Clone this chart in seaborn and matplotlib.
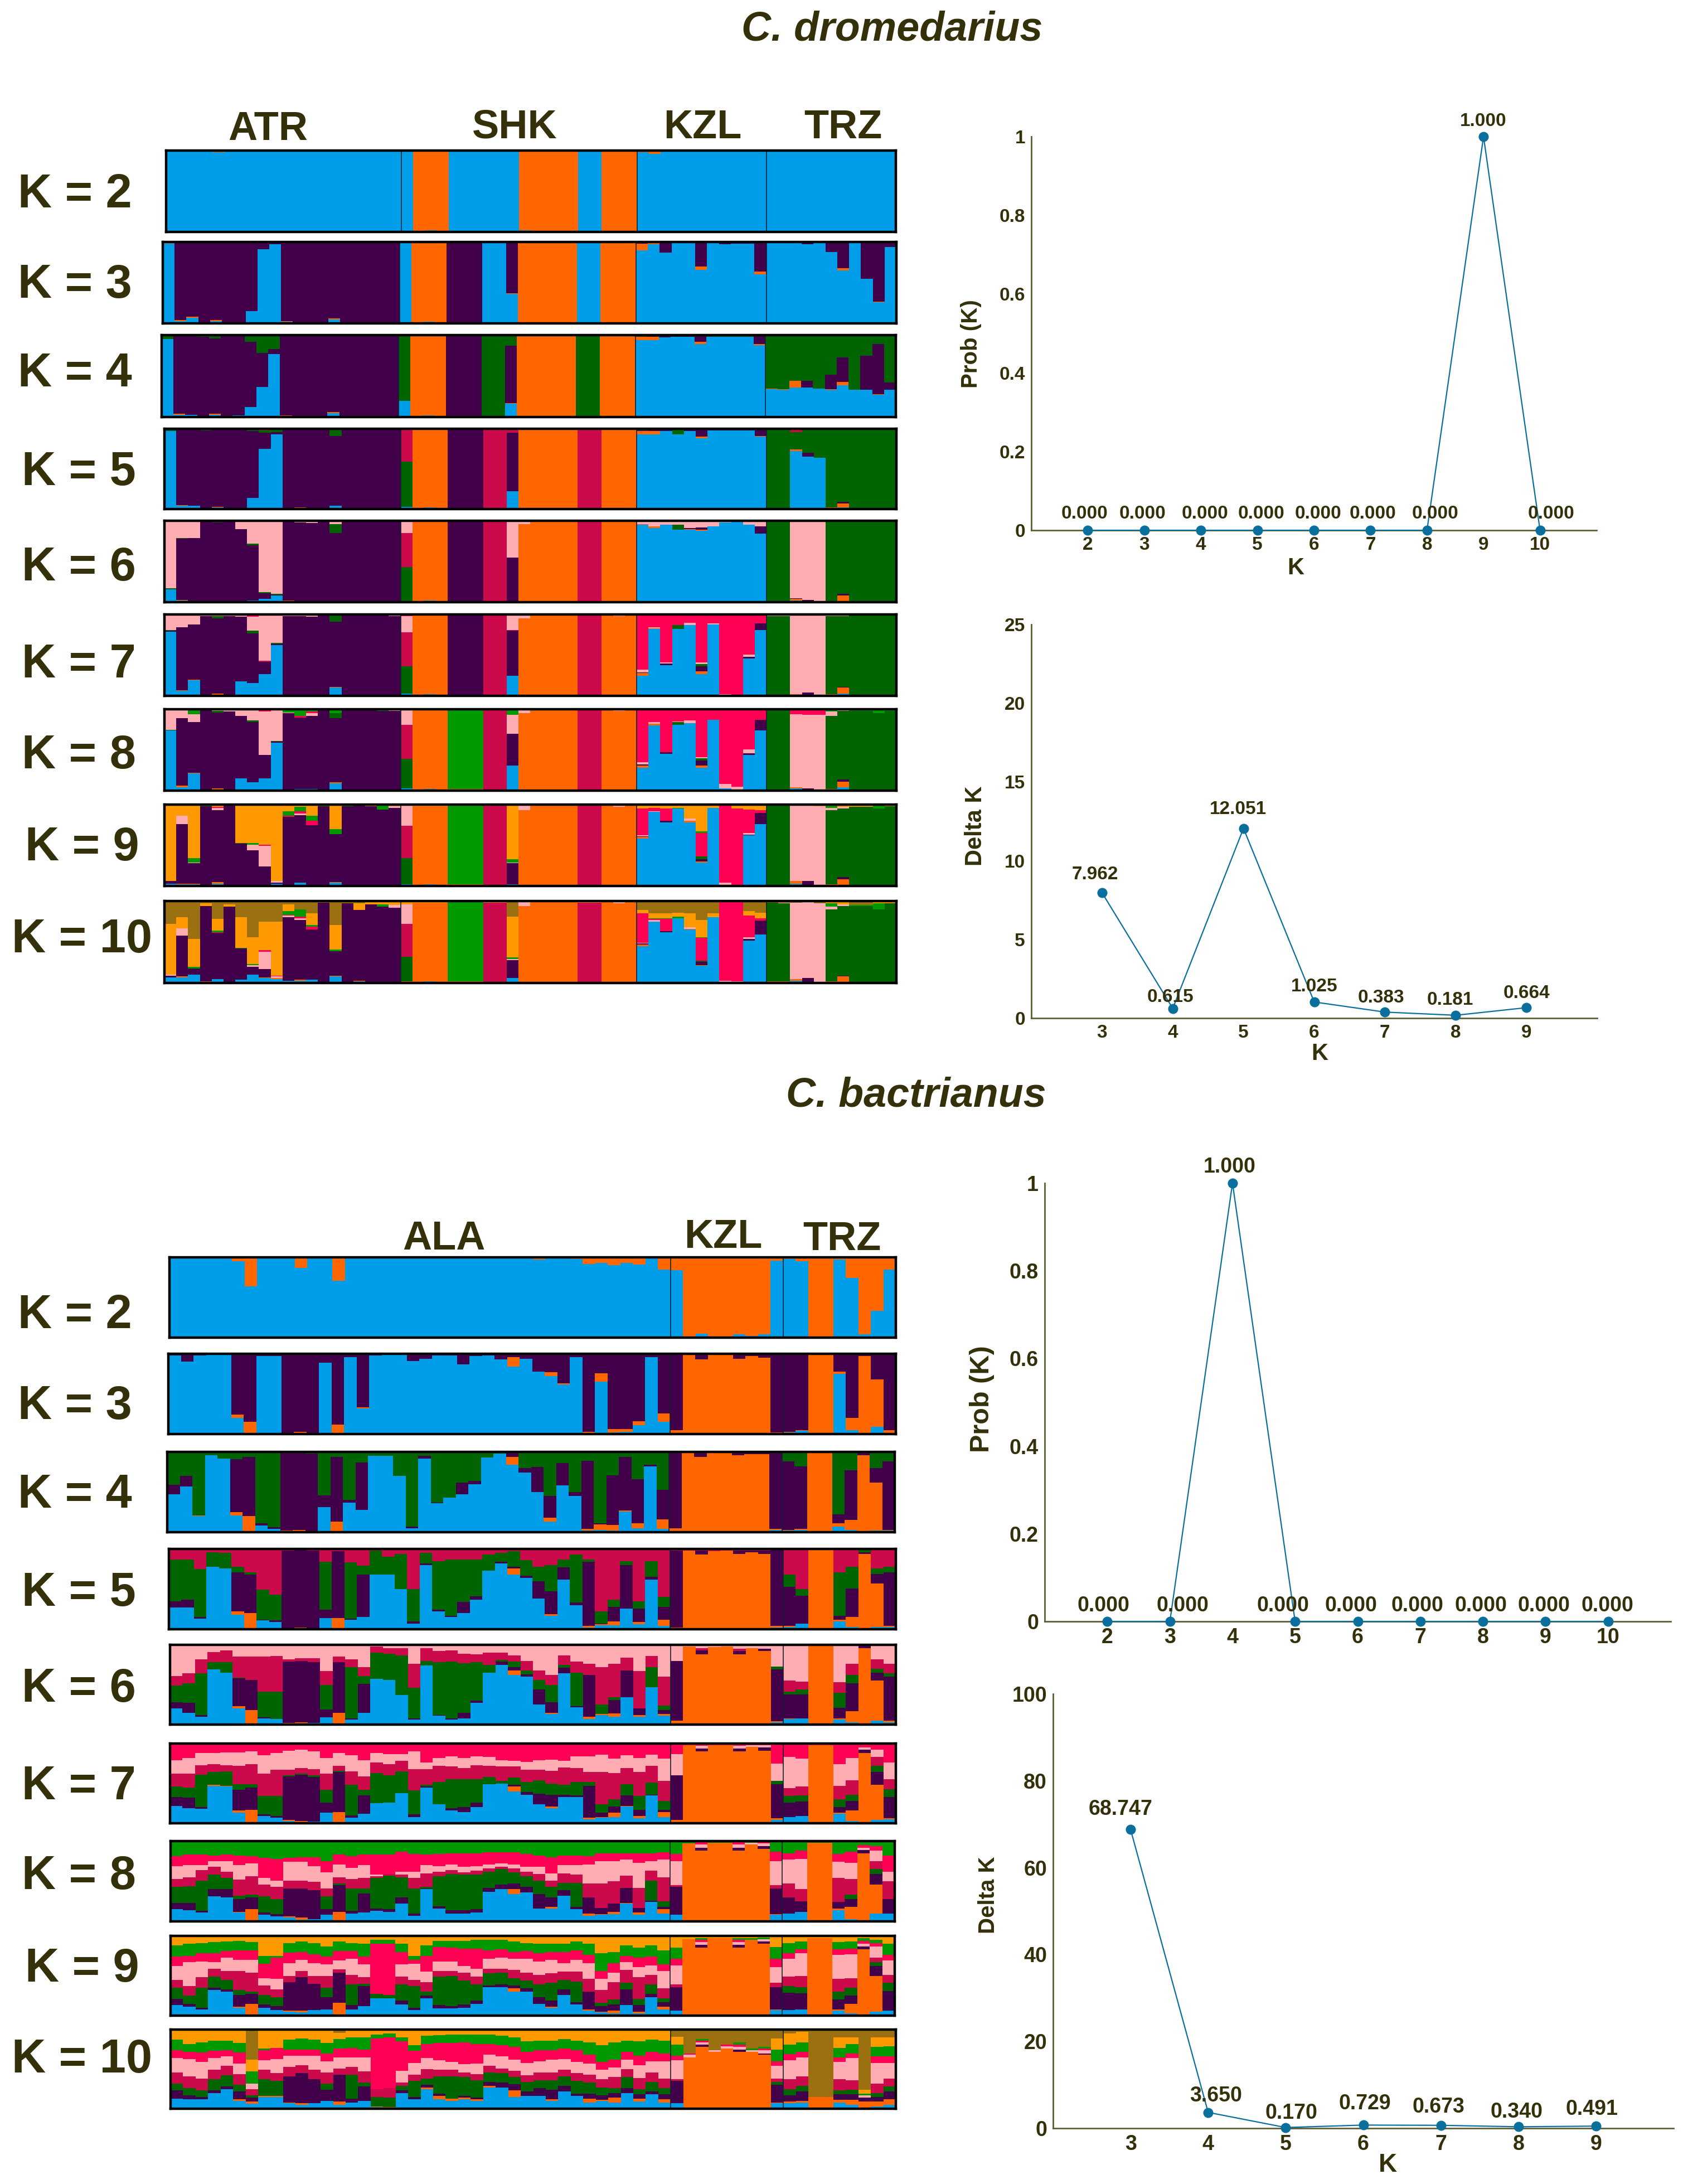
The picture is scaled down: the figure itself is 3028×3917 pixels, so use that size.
import matplotlib
matplotlib.use("Agg")
import matplotlib.pyplot as plt
import pandas as pd
import seaborn as sns

# cluster codes, bottom to top of each stack
cluster_order = list("BOPGCKRLAW")
cluster_colors = ["#009ee8", "#ff6600", "#42004a", "#006400", "#cc0a4b",
                  "#ffadb3", "#ff0055", "#009900", "#ff9900", "#9a7010"]

# ---- C. dromedarius: ATR 20, SHK 20, KZL 11, TRZ 11 individuals ----
dro_k2 = ["B100","B100","B99 O1","B100","B98 O2"] + ["B100"]*15 + [
    "B100","O100","B2 O98","O100"] + ["B100"]*6 + ["B2 O98"] + ["O100"]*4 + ["B100","B100"] + ["O100"]*3 + [
    "B98 O2","B96 O4"] + ["B100"]*9 + ["B100"]*11
dro_k3 = ["B98 O1 P1","B3 O1 P96","B7 O1 P92","B1 P99","B3 O1 P96","B1 P99","B1 P99","B15 P85","B91 P9","B97 P3",
    "B2 O1 P97","B1 P99","B1 P99","P100","B5 O1 P94","P100","P100","P100","B1 P99","O1 P99",
    "B100","O100","B2 O98","O100","P100","P100","P100","B100","B100","B36 O1 P63",
    "O100","O100","O100","O100","O100","B99 O1","B99 O1","O100","B1 O99","O100",
    "B90 O8 P2","B97 O2 P1","B87 P13","B99 O1","B99 O1","B66 O4 P30","B99 O1","B97 P3","B98 P2","B98 P2","B60 O4 P36",
    "B99 O1","B99 O1","B99 O1","B97 P3","B99 P1","B88 P12","B65 O3 P32","B99 P1","B55 P45","B26 O1 P73","B94 P6"]
dro_k4 = ["B95 G5","B3 O1 P95 G1","B3 P96 G1","P98 G2","B3 O1 P92 G4","P99 G1","B2 P97 G1","B12 P80 G8","B37 P41 G22","B77 P6 G17",
    "B1 O1 P98","B1 P99","B1 P99","P100","B5 O1 P93 G1","P100","P100","P100","B1 P99","O1 P99",
    "B20 G80","O100","B2 O98","O100","P100","P100","P100","G100","G100","B16 O1 P70 G13",
    "O100","O100","O100","O100","O100","G100","G100","O100","O100","O100",
    "B94 O4 G2","B94 O4 P2","B97 P3","B98 P2","B98 P2","B89 O3 P8","B98 G2","B98 G2","B98 G2","B98 G2","B88 O1 P11",
    "B34 O1 G65","B33 O1 G66","B36 O8 G56","B36 P8 G56","B35 G65","B33 O1 P18 G48","B39 O4 P30 G27","B33 G67","B33 P42 G25","B27 O1 P61 G11","B33 P9 G58"]
dro_k5 = ["B97 G3","B4 O1 P94 G1","B4 P95 G1","B1 P97 G2","B2 O1 P96 G1","P99 G1","B1 P98 G1","B14 P83 G3","B75 P20 G3 C2","B93 P3 G4",
    "B1 P99","B1 O1 P98","B1 P99","P100","B4 P87 G9","P100","P100","P100","B1 P99","O1 P99",
    "B3 G56 C41","O100","B2 O98","O100","P100","P100","P100","C100","C100","B22 P73 C5",
    "O100","O100","O100","O100","O100","C100","C100","O100","O100","O100",
    "B93 O4 P1 G2","B93 O4 P3","B97 P3","B93 G7","B97 P3","B88 O2 P10","B98 P2","B98 P2","B98 P2","B98 P2","B90 O1 P9",
    "G99 C1","G100","B72 O2 G22 C4","B65 P5 G30","B64 G36","B1 O1 G98","B2 O5 P2 G91","G100","G100","G100","G100"]
dro_k6 = ["B16 G1 K83","B2 O1 P75 G1 K21","B1 P78 K21","P99 K1","B1 P97 G2","P99 K1","B1 P89 K10","B2 P68 G2 K28","B4 P7 G1 K88","B8 P1 G1 K90",
    "B1 O1 P98","B1 P97 K2","B1 P96 K3","P100","B1 P84 G11 K4","P100","P100","P100","P100","P99 K1",
    "B1 G42 C42 K15","O100","B2 O98","O100","P100","P100","P100","C100","C100","B1 P54 K45",
    "O96 K4","O100","O100","O100","O100","C100","C100","O100","O99 K1","O100",
    "B95 O1 K4","B91 O2 K7","B95 K5","B89 G6 K5","B89 O1 P1 K9","B88 O1 P3 K8","B93 K7","B98 K2","B99 K1","B95 K5","B84 P9 K7",
    "O1 G99","O1 G99","B2 O2 P1 K95","B1 P2 K97","B1 K99","B1 G98 C1","B1 O7 P2 G89 K1","G100","G100","G100","G100"]
dro_k7 = ["B79 P1 G1 K18 R1","B6 O1 P77 K15 R1","B19 O1 P68 K11 R1","P98 K2","B1 O2 P92 G3 K2","P98 K2","B18 P79 K3","B16 P61 G3 K17 R3","B27 P15 C1 K56 R1","B62 P2 G1 K34 R1",
    "B1 P97 K2","B1 P97 K2","B1 P96 K3","P99 K1","B10 O1 P80 G9","P100","P99 B1","P100","P99 B1","P98 K2",
    "B3 G33 C42 K20 R2","O100","B2 O98","O100","P100","P100","P100","C100","C100","B25 P55 C1 K19",
    "O95 K5","O100","O100","O100","O100","C100","C100","O100","O98 K2","O100",
    "B25 O3 P1 K3 R68","B82 O1 K1 R16","B38 P2 K1 R59","B82 G5 R13","B87 K3 R10","B27 O3 P6 G3 K2 R59","B88 K1 R11","B1 K1 R98","B1 R99","B46 P2 K3 R49","B81 P8 R11",
    "O1 G97 K2","O1 G97 K2","B1 O1 K98","P4 K96","K100","B1 O1 G96 K2","B3 O7 P1 G87 K2","G99 K1","G99 K1","G99 K1","G99 K1"]
dro_k8 = ["B74 G1 K24 R1","B4 O2 P83 K11","B21 O1 P62 K10 L6","P99 L1","B1 O2 P93 G2 K2","P97 K3","B15 P77 K8","B10 P74 G2 K14","B15 P29 R3 K53","B59 G1 P1 K39",
    "B1 P94 K1 L4","B2 P88 R2 L8","B2 P90 R2 K3 L3","P99 L1","B9 O1 P79 G6 L5","P100","B1 P99","P100","P98 L2","P98 K2",
    "B3 G36 C42 K19","O100","B2 O98","O100","L98 O2","L98 O2","L98 O2","C100","C100","B31 P39 K23 L7",
    "O95 K5","O100","O100","O100","O100","C100","C100","O100","O98 K2","O100",
    "B28 O3 P1 K3 R65","B80 O2 K2 R16","B45 P2 R53","B81 G3 K1 R15","B83 K3 R14","B28 O3 P6 G3 K1 R59","B87 R13","B3 K5 R92","K5 R95","B44 P2 K5 R49","B74 P13 R13",
    "O1 G98 R1","O1 G98 R1","B3 O1 K90 R6","P3 K90 R7","K93 R7","B1 O1 G90 K5 L3","B4 O7 P3 G84 K2","G98 L2","G98 L2","G95 L5","G98 L2"]
dro_k9 = ["B3 P3 A94","B2 O1 P73 K10 A14","B2 O1 P25 K1 L5 A66","P98 L2","B3 O2 P88 K3 R1 A3","P99 A1","B1 P51 G1 A47","B1 P43 L2 K7 A47","B1 P23 R2 K25 A49","B3 P1 K2 A94",
    "B1 P84 R1 L6 A8","B4 P83 K2 R3 L5 A3","B1 P74 R5 L6 A14","P98 L2","B4 O1 P59 L6 A30","P98 L2","P99 A1","P98 A2","P94 L5 A1","P96 K2 A2",
    "B2 G32 C40 K26","O98 A2","B2 O96 A2","O98 A2","L98 O2","L98 O2","L98 O2","C100","C100","B2 P26 K1 L4 A67",
    "O93 K6 A1","O99 A1","O99 A1","O99 A1","O99 A1","C100","C100","O100","O97 K2 A1","O100",
    "B58 O2 P1 K1 R33 A5","B91 K1 R4 A4","B78 P2 R15 A5","B95 L1 A4","B78 O2 K3 A17","B29 O1 P3 G3 R29 L2 A33","B96 A4","B1 K3 R96","R95 A5","B62 P1 K2 R29 A6","B76 P14 R3 A7",
    "O1 G98 K1","O1 G98 K1","B3 O3 K93 A1","B1 P5 K93 A1","O1 K97 A2","B1 O1 G91 K3 L4","B1 O7 P3 G84 K2 A3","G97 A3","G97 A3","G95 L5","G98 A2"]
dro_k10 = ["B7 P2 K1 A62 W28","B7 O1 P50 K9 A13 W20","B10 P8 L2 A34 W46","B1 O1 P92 A3 W3","B5 P56 L2 R1 A14 W22","B1 P92 A3 W4","B4 P38 L1 A37 W20","B10 P10 K2 L1 A33 W44","B6 O1 P10 R2 K21 A35 W25","B5 O1 K2 R1 A66 W25",
    "B3 P77 K2 R1 L5 A8 W4","B3 O1 P73 K2 R2 L9 W10","B4 P61 R4 L2 A14 W15","P98 W2","B8 O1 P30 L2 A30 W29","B1 P96 W3","B2 O1 P86 A8 W3","P96 A3 W1","P93 L3 A4","P92 K3 A5",
    "B1 O1 G30 C40 K24 A4","O98 A2","B2 O96 A2","O98 A2","L98 O2","L98 O2","L98 O2","C98 A2","C98 A2","B6 P22 K1 L2 A50 W19",
    "O94 K5 A1","O99 A1","O99 A1","O99 A1","O99 A1","C98 A2","C98 A2","O99 A1","O97 K2 A1","O99 A1",
    "B45 O2 P1 K1 R36 A4 W11","B75 K2 R1 L1 A6 W15","B62 P1 R15 L1 A6 W15","B79 L2 A5 W14","B65 O1 K2 A17 W15","B21 O1 P4 G1 R28 L1 A21 W23","B80 A5 W15","B1 K2 R97","R98 K2","B52 P2 K2 R26 A6 W12","B59 P17 R3 A7 W14",
    "O2 G96 W2","O2 G95 K1 W2","B3 O2 K93 W2","B1 P5 K93 W1","O1 K96 W3","B1 O1 G88 K3 L4 A3","B1 O7 P1 G85 K2 A4","G94 L1 W5","G94 L1 W5","G90 L7 A3","G97 A3"]

# ---- C. bactrianus: ALA 40, KZL 9, TRZ 9 individuals ----
bac_k2 = ["B100"]*5 + ["B95 O5","B64 O36","B100","B100","B100","B87 O13","B100","B100","B71 O29","B100","B99 O1","B99 O1","B100","B100","B100",
    "B100","B100","B100","B100","B100","B100","B100","B100","B100","B97 O3","B100","B99 O1","B98 O2","B92 O8","B93 O7","B90 O10","B93 O7","B91 O9","B100","B85 O15",
    "B84 O16","O100","B5 O95","O100","O100","B4 O96","B2 O98","B4 O96","B96 O4",
    "B98 O2","B95 O5","O100","O100","B97 O3","B74 O26","B4 O96","B33 O67","B85 O15"]
bac_k3 = ["B98 P2","B90 P10","B98 P2","B99 P1","B99 P1","B20 O4 P76","O15 P85","B97 P3","B97 P3","O1 P99",
    "B1 O2 P97","B1 P99","B89 P11","O12 P88","B96 P4","B32 O1 P67","B98 P2","B99 P1","B99 P1","B91 P9",
    "B94 P6","B98 P2","B98 P2","B87 P13","B97 P3","B98 P2","B93 P7","B84 O12 P4","B94 P6","B78 P22",
    "B72 O5 P23","B62 O1 P37","B96 P4","B1 O2 P97","B65 O11 P24","B2 O4 P94","B3 O3 P94","B11 O5 P84","B96 P4","B15 O11 P74",
    "O5 P95","O99 P1","O93 P7","O99 P1","O99 P1","O94 P6","O97 P3","O95 P5","O2 P98",
    "B2 O1 P97","B4 O1 P95","O99 P1","O99 P1","B75 O3 P22","B5 O15 P80","O97 P3","B9 O59 P32","B1 O4 P95"]
bac_k4 = ["B47 P12 G41","B57 P13 G30","B20 O1 G79","B96 G4","B92 G8","B21 O4 P66 G9","O20 P74 G6","B8 P3 G89","B4 P2 G94","O2 P98",
    "O3 P97","B1 P97 G2","B31 P15 G54","O13 P81 G6","B37 P3 G60","B28 P59 G13","B95 G5","B95 G5","B70 G30","B5 P2 G93",
    "B92 P3 G5","B36 P1 G63","B43 G57","B47 P15 G38","B60 P4 G36","B93 G7","B98 G2","B84 O10 P6","B74 P6 G20","B50 P31 G19",
    "B13 O5 P27 G55","B58 P28 G14","B45 P5 G50","B2 O2 P85 G11","B3 O7 P1 G89","B2 O7 P62 G29","B26 O1 P67 G6","B5 O6 P55 G34","B82 P2 G16","B4 O12 P37 G47",
    "O5 P95","O99 P1","O94 P6","O99 P1","O99 P1","O96 P4","O97 P3","O97 P3","B3 O1 P96",
    "B2 O1 P85 G12","B3 O1 P78 G18","O99 P1","O99 P1","B7 O4 P11 G78","B3 O12 P62 G23","O96 P4","B2 O60 P18 G20","B2 O1 P85 G12"]
bac_k5 = ["B27 P8 G52 C13","B27 P10 G50 C13","B13 P2 G60 C25","B78 G18 C4","B76 G19 C5","B18 O4 P49 G7 C22","O20 P48 G3 C29","B11 P1 G37 C51","B9 P2 G32 C57","O1 P97 C2",
    "O2 P97 C1","P98 C2","B14 P10 G60 C16","O14 P83 C3","B12 P1 G70 C17","B15 P53 G11 C21","B68 G30 C2","B68 G22 C10","B50 G44 C6","B7 P3 G40 C50",
    "B80 P2 G13 C5","B22 P2 G61 C15","B15 P2 G70 C13","B20 P14 G53 C13","B37 P4 G46 C13","B73 G20 C7","B82 P2 G11 C5","B68 O8 P2 G19 C3","B64 P3 G19 C14","B38 P22 G18 C22",
    "B17 O2 P28 G33 C20","B62 P15 G10 C13","B30 P3 G60 C7","B2 O2 P80 G3 C13","B5 O1 P1 G15 C78","B5 O5 P18 G9 C63","B26 P54 G5 C15","B6 O3 P17 G9 C65","B62 P3 G20 C15","B4 O8 P16 G12 C60",
    "O2 P96 C2","O98 C2","O93 P5 C2","O97 C3","O98 C2","O94 P4 C2","O96 P2 C2","O94 P4 C2","B2 O2 P95 C1",
    "B3 O1 P49 G15 C32","B7 P35 G8 C50","O99 C1","O99 C1","B10 O2 P5 G54 C29","B3 O12 P36 G27 C22","O94 P2 G3 C1","B3 O54 P12 G7 C24","B3 O1 P67 G7 C22"]
bac_k6 = ["B20 P8 G21 C12 K39","B15 P12 G25 C12 K36","B10 P2 G52 C18 K18","B69 G9 C13 K9","B65 G13 C15 K7","B20 O3 P35 G1 C26 K15","O18 P38 C29 K15","B8 P1 G32 C44 K15","B7 G34 C45 K14","B1 O1 P77 C3 K18",
    "O3 P77 C3 K17","B2 P76 C5 K17","B9 P10 G31 C17 K33","O15 P63 C7 K15","B6 P2 G64 C10 K18","B15 P36 G10 C11 K28","B57 G33 C8 K2","B56 G33 C7 K4","B37 G50 C9 K4","B6 P2 G38 C30 K24",
    "B74 G6 C16 K4","B11 P1 G66 C14 K8","B6 P2 G71 C14 K7","B8 P7 G62 C12 K11","B27 P3 G48 C10 K12","B65 G10 C15 K10","B75 P4 G2 C9 K10","B62 O6 P4 G7 C8 K13","B60 P3 G5 C12 K20","B25 P19 G12 C12 K32",
    "B13 O2 P13 G22 C12 K38","B64 P7 G4 C12 K13","B22 P1 G42 C14 K21","B7 O3 P52 C14 K24","B12 O1 G12 C47 K28","B10 O4 P17 G3 C42 K24","B34 P34 C16 K16","B10 O2 P8 C47 K33","B47 G25 C14 K14","B11 O2 P5 G6 C36 K40",
    "O5 P75 K20","O98 K2","O88 P5 K4 C3","O97 K3","O98 K2","O88 P4 K5 C3","O96 K4","O92 P3 K5","B3 O1 P65 G4 K27",
    "B7 O1 P30 G3 C14 K45","B8 P30 G6 C10 K46","O99 K1","O99 K1","B6 O2 P13 G19 C13 K47","B3 O14 P35 G10 C14 K24","O96 P3 K1","B5 O50 P10 G5 C12 K18","B3 O2 P55 G4 C12 K24"]
bac_k7 = ["B22 P11 G13 C16 K17 R21","B19 P13 G13 C17 K20 R18","B18 P2 G41 C12 K15 R12","B47 O1 G16 C10 K14 R12","B46 O1 G18 C8 K16 R11","B13 O3 P26 G7 C23 K17 R11","B1 O16 P28 G4 C25 K16 R10","B9 P2 G23 C28 K23 R15","B7 P2 G25 C33 K21 R12","B3 O1 P55 G1 C7 K24 R9",
    "B1 O2 P58 G1 C7 K23 R8","B2 P56 G2 C8 K22 R10","B13 P13 G16 C20 K20 R18","O14 P50 G2 C6 K16 R12","B7 P3 G38 C17 K20 R15","B12 P23 G7 C17 K20 R21","B25 G38 C13 K12 R12","B26 G34 C14 K13 R13","B38 G27 C13 K9 R13","B8 P3 G30 C27 K22 R10",
    "B45 P1 G2 C20 K8 R24","B24 G28 C20 K10 R18","B16 P3 G36 C16 K13 R16","B14 P6 G35 C14 K13 R18","B20 P6 G29 C18 K11 R16","B49 G9 C14 K11 R17","B50 G3 C18 K8 R21","B40 O6 P2 G9 C14 K7 R22","B36 P3 G13 C15 K10 R23","B24 P13 G17 C13 K12 R21",
    "B19 O2 P15 G14 C16 K14 R20","B33 P3 G12 C22 K8 R22","B33 P2 G17 C17 K15 R16","B5 O2 P40 G5 C12 K20 R16","B7 O1 P5 G11 C40 K22 R14","B8 O5 P8 G9 C33 K18 R19","B21 O1 P13 G14 C20 K16 R15","B6 O3 P8 G17 C30 K18 R18","B35 P1 G15 C21 K14 R14","B8 O6 P3 G11 C25 K28 R19",
    "B1 O3 P56 K27 R13","O98 R2","O90 P4 K3 R3","O98 R2","O98 R2","O90 P4 K3 R3","O96 K2 R2","O91 P4 K3 R2","B4 O2 P43 G4 K22 R25",
    "B8 P18 G8 C10 K39 R17","B9 P18 G8 C11 K35 R19","O98 R2","O98 R2","B12 O1 P7 G10 C17 K27 R26","B3 O13 P12 G8 C18 K28 R18","O88 P4 K3 R5","B4 O44 P16 G8 C11 K9 R8","B5 O1 P27 G10 C12 K21 R24"]
bac_k8 = ["B15 P8 G20 C10 K16 R12 L19","B14 P9 G21 C11 K15 R13 L17","B11 P2 G38 C13 K6 R13 L17","B31 P9 G18 C10 K7 R7 L18","B30 P10 G14 C8 K13 R8 L17","B11 O1 P16 G4 C20 K18 R12 L18","B1 O14 P15 G3 C23 K16 R9 L19","B8 P3 G20 C15 K8 R25 L21","B6 P3 G19 C15 K8 R27 L22","B5 O1 P35 C10 K23 R5 L21",
    "B2 O3 P36 C10 K23 R6 L20","B3 P36 C10 K20 R11 L20","B8 P7 G16 C10 K20 R14 L25","O12 P33 G2 C8 K16 R12 L17","B10 P3 G28 C12 K14 R14 L19","B11 P24 G6 C13 K16 R13 L17","B13 P3 G38 C2 K2 R25 L17","B12 P3 G42 C2 R24 L17","B22 P8 G25 C3 K4 R25 L13","B7 P3 G31 C13 K8 R22 L16",
    "B40 P1 G2 C17 K10 R13 L17","B16 P3 G37 C6 K7 R15 L16","B10 P4 G45 C5 K7 R14 L15","B10 P4 G44 C3 K7 R17 L15","B11 P4 G43 C5 K6 R16 L15","B37 P5 G20 C4 K5 R15 L14","B40 P6 G19 C3 K4 R14 L14","B34 O6 P7 G14 C5 K5 R15 L14","B36 P7 G13 C6 K6 R16 L16","B16 P18 G17 C8 K9 R14 L18",
    "B16 O2 P12 G13 C8 K9 R20 L20","B32 P7 G9 C12 K10 R12 L18","B15 P3 G30 C10 K12 R12 L18","B7 O3 P20 C17 K24 R10 L19","B8 O1 P8 C30 K28 R10 L15","B9 O3 P10 C28 K25 R10 L15","B22 O1 P19 C15 K20 R8 L15","B8 O3 P6 C25 K31 R12 L15","B24 P2 G25 C12 K12 R10 L15","B10 O5 P3 G7 C30 K22 R9 L14",
    "B8 P35 C2 K30 R9 L16","O97 L3","O88 P4 K4 R4","O98 L2","O98 L2","O88 P4 K4 R4","O96 K2 L2","O90 P4 K3 R3","B8 O1 P32 C4 K30 R12 L13",
    "B10 P20 C17 K30 R8 L15","B12 P13 C15 K38 R10 L12","O98 L2","O98 L2","B14 O2 P8 C30 K20 R10 L16","B3 O15 P10 G5 C20 K20 R14 L13","O85 P4 K3 R3 L5","B10 O36 P13 G6 C10 K13 R6 L6","B10 P18 C22 K12 R20 L18"]
bac_k9 = ["B13 P8 G14 C10 K17 R12 L14 A12","B11 P4 G10 C12 K30 R8 L15 A10","B8 P2 G25 C13 K20 R10 L13 A9","B32 P3 G14 C10 K8 R11 L14 A8","B30 P3 G12 C11 K17 R8 L12 A7","B10 O1 P15 G6 C24 K14 R12 L12 A6","B1 O14 P12 G3 C24 K16 R12 L10 A8","B10 P4 G12 C12 K9 R18 L10 A25","B7 P5 G11 C10 K13 R27 L2 A25","B5 O1 P36 C8 K16 R13 L12 A9",
    "B4 O2 P42 C8 K14 R10 L13 A7","B7 P33 C10 K16 R11 L14 A9","B8 P15 G12 C15 K14 R10 L13 A13","B1 O15 P38 C4 K11 R12 L12 A7","B8 P5 G26 C12 K20 R10 L10 A9","B12 P25 G3 C8 K16 R10 L16 A10","B22 G5 R63 L5 A5","B22 G4 R64 L5 A5","B14 P5 G20 C10 K15 R16 L10 A10","B7 P3 G27 C8 K20 R5 L5 A25",
    "B22 P3 G5 C12 K13 R20 L13 A12","B9 P4 G36 C7 K12 R18 L8 A6","B9 P3 G38 C6 K12 R17 L9 A6","B10 P4 G30 C10 K8 R22 L10 A6","B15 P4 G20 C10 K10 R25 L11 A5","B36 P2 G15 C6 K12 R11 L13 A5","B36 P3 G15 C5 K14 R10 L12 A5","B30 O4 P4 G9 C10 K14 R9 L13 A7","B30 P4 G10 C10 K17 R10 L10 A9","B15 P8 G16 C12 K17 R10 L12 A10",
    "B10 O1 P8 G22 C12 K17 R10 L10 A10","B26 P7 G12 C10 K11 R14 L10 A10","B14 P3 G26 C12 K15 R12 L11 A7","B6 O2 P22 C16 K20 R10 L14 A10","B4 O1 P7 G4 C16 K14 R10 L22 A22","B3 O3 P8 G6 C22 K12 R12 L14 A20","B13 P20 G8 C16 K10 R8 L13 A12","B3 O2 P8 G8 C27 K13 R12 L12 A15","B23 P4 G12 C12 K12 R11 L14 A12","B8 O3 P6 G5 C12 K22 R8 L18 A18",
    "B6 P30 C3 K24 R8 L14 A15","O96 A4","O85 P4 K3 R3 L2 A3","O97 A3","O97 A3","O85 P4 K3 R3 L2 A3","O95 L2 A3","O90 P3 K3 L2 A2","B7 O1 P28 C5 K20 R10 L15 A14",
    "B7 P22 G8 C12 K22 R7 L13 A9","B8 P20 G8 C14 K28 R5 L10 A7","O97 A3","O97 A3","B6 O2 P12 G10 C16 K30 R7 L9 A8","B3 O12 P10 G10 C12 K30 R7 L9 A7","O83 P4 K3 R4 L3 A3","B5 O45 P12 G5 C6 K14 R4 L4 A5","B6 P25 G10 C10 K18 R7 L14 A10"]
bac_k10 = ["B13 P10 G9 C14 K18 R10 L13 A13","B12 P5 G9 C15 K22 R9 L10 A18","B12 P3 G8 C15 K21 R12 L13 A16","B20 P3 G14 C12 K15 R9 L13 A14","B25 P3 G14 C12 K12 R8 L12 A14","B10 O2 P10 G8 C14 K13 R14 L12 A17","B6 O3 P5 G3 C8 K7 L15 A15 W38","B15 O1 G21 C12 K12 R13 L2 A24","B15 O1 G19 C10 K18 R14 A23","B7 O1 P33 C12 K14 R8 L12 A13",
    "B5 O2 P38 C10 K12 R8 L14 A11","B7 P30 C12 K18 R8 L12 A13","B10 P14 G8 C14 K14 R10 L13 A17","B5 O4 P34 C8 K14 R11 L12 A8 W4","B8 P5 G30 C10 K12 R12 L13 A10","B10 P18 G5 C14 K18 R10 L15 A10","B2 O1 G12 C10 R64 L5 A6","B1 O1 G12 C12 R64 L5 A5","B20 P3 G6 C4 K15 R37 L5 A10","B12 P3 G20 C8 K15 R15 L7 A20",
    "B25 O2 P3 G8 C12 K14 R18 L10 A8","B12 O4 P3 G22 C8 K12 R22 L10 A7","B10 O3 G28 C8 K10 R24 L11 A6","B12 O2 P2 G24 C6 K10 R28 L10 A6","B10 O2 P2 G22 C8 K13 R25 L12 A6","B27 O2 P5 G12 C8 K14 R14 L12 A6","B27 P6 G12 C6 K15 R14 L12 A8","B15 O8 P8 G9 C8 K14 R16 L12 A10","B16 P6 G12 C8 K16 R14 L13 A15","B16 P10 G10 C10 K14 R14 L12 A14",
    "B10 O2 P12 G12 C10 K16 R12 L12 A14","B22 P7 G12 C8 K14 R13 L12 A12","B16 P3 G16 C10 K14 R15 L12 A14","B8 O5 P6 G14 C10 K14 R11 L16 A16","B10 O1 P6 G10 C10 K12 R10 L21 A20","B8 O6 P6 G6 C14 K12 R10 L22 A16","B20 P6 G14 C10 K12 R10 L14 A14","B9 O4 P5 G7 C14 K16 R12 L18 A15","B18 P4 G12 C12 K14 R12 L15 A13","B8 O4 P6 G8 C12 K22 R10 L16 A14",
    "B7 P28 C2 K24 R6 L14 A10 W9","O65 K3 R2 W30","O78 P3 K3 R2 L2 W12","O72 K2 W26","O76 K3 R2 W19","O72 P3 K3 R3 L3 W16","O72 K2 L2 W24","O68 P2 K4 R2 L2 W22","B7 O1 P22 G4 C4 K16 R6 L15 A14 W11",
    "B7 O2 P8 G8 C12 K24 R8 L12 A14 W5","B8 O2 P12 G7 C12 K24 R7 L12 A13 W3","B1 O14 W85","B1 O14 W85","B8 O3 P7 G5 C14 K22 R6 L12 A13 W10","B5 O6 P7 G6 C12 K28 R6 L12 A8 W10","B1 O8 P5 K3 L2 A5 W76","B3 O6 P6 G5 C12 K26 R8 L12 A12 W10","B5 O7 P10 G6 C10 K20 R8 L13 A11 W10"]

dro_panels = [dro_k2, dro_k3, dro_k4, dro_k5, dro_k6, dro_k7, dro_k8, dro_k9, dro_k10]
bac_panels = [bac_k2, bac_k3, bac_k4, bac_k5, bac_k6, bac_k7, bac_k8, bac_k9, bac_k10]
dro_groups = [20, 40, 51]
bac_groups = [40, 49]

# model choice curves
k_prob = [2, 3, 4, 5, 6, 7, 8, 9, 10]
k_delta = [3, 4, 5, 6, 7, 8, 9]
dro_prob = [0, 0, 0, 0, 0, 0, 0, 1, 0]
dro_delta = [7.962, 0.615, 12.051, 1.025, 0.383, 0.181, 0.664]
bac_prob = [0, 0, 1, 0, 0, 0, 0, 0, 0]
bac_delta = [68.747, 3.650, 0.170, 0.729, 0.673, 0.340, 0.491]

W, H = 3028, 3917
INK = "#33300a"
LINE = "#0a6f9c"
AXIS = "#5f5f35"

sns.set_theme(style="white")
plt.rcParams["font.family"] = ["Liberation Sans", "DejaVu Sans"]
fig = plt.figure(figsize=(W / 100, H / 100), dpi=100, facecolor="white")


def add_ax(left, top, right, bottom):
    return fig.add_axes([left / W, 1 - bottom / H, (right - left) / W, (bottom - top) / H])


def put(x, y, s, size, **kw):
    fig.text(x / W, 1 - y / H, s, fontsize=size, color=kw.pop("color", INK),
             ha="center", va="center", **kw)


def to_long(columns):
    rows = []
    for ind, col in enumerate(columns, start=1):
        parts = [(tok[0], float(tok[1:])) for tok in col.split()]
        total = sum(v for _, v in parts)
        for code, v in parts:
            rows.append({"ind": ind, "cluster": code, "q": v / total})
    return pd.DataFrame(rows)


def admixture(box, columns, breaks):
    ax = add_ax(*box)
    df = to_long(columns)
    levels = [c for c in cluster_order if c in set(df["cluster"])]
    sns.histplot(data=df, x="ind", weights="q", hue="cluster", hue_order=levels[::-1],
                 palette=dict(zip(cluster_order, cluster_colors)), multiple="stack",
                 discrete=True, linewidth=0, alpha=1, legend=False, ax=ax)
    ax.set_xlim(0.5, len(columns) + 0.5)
    ax.set_ylim(0, 1)
    ax.set(xticks=[], yticks=[], xlabel="", ylabel="")
    for b in breaks:
        ax.axvline(b + 0.5, color="#123", lw=1.2)
    for sp in ax.spines.values():
        sp.set_visible(True)
        sp.set_color("black")
        sp.set_linewidth(3.2)


def curve(box, xs, ys, xlim, ylim, yticks, yfmt, labels, offsets, size):
    ax = add_ax(*box)
    sns.lineplot(x=xs, y=ys, color=LINE, lw=1.6, marker="o", markersize=13,
                 markeredgewidth=0, ax=ax, clip_on=False, zorder=3)
    ax.set_xlim(*xlim)
    ax.set_ylim(*ylim)
    ax.set_xticks(xs)
    ax.set_yticks(yticks)
    ax.set_yticklabels([yfmt(t) for t in yticks])
    ax.set(xlabel="", ylabel="")
    ax.tick_params(axis="both", labelsize=size, labelcolor=INK, length=0, pad=8)
    for lab in ax.get_xticklabels() + ax.get_yticklabels():
        lab.set_fontweight("bold")
    sns.despine(ax=ax)
    for side in ("left", "bottom"):
        ax.spines[side].set_color(AXIS)
        ax.spines[side].set_linewidth(2)
    for x, y, s, (dx, dy) in zip(xs, ys, labels, offsets):
        ax.annotate(s, (x, y), xytext=(dx, dy), textcoords="offset pixels", ha="center",
                    va="center", fontsize=size, fontweight="bold", color=INK, annotation_clip=False)


# stacked admixture panels
dro_boxes = [(298, 270, 1607, 416), (292, 434, 1608, 580), (290, 601, 1607, 748),
             (295, 769, 1608, 913), (295, 934, 1608, 1080), (295, 1102, 1608, 1248),
             (295, 1272, 1608, 1418), (295, 1443, 1608, 1589), (295, 1616, 1608, 1763)]
bac_boxes = [(304, 2255, 1607, 2399), (302, 2428, 1607, 2572), (300, 2604, 1605, 2748),
             (303, 2778, 1607, 2922), (305, 2950, 1607, 3093), (305, 3127, 1607, 3270),
             (306, 3302, 1605, 3446), (306, 3472, 1605, 3615), (306, 3640, 1607, 3782)]
for box, cols in zip(dro_boxes, dro_panels):
    admixture(box, cols, dro_groups)
for box, cols in zip(bac_boxes, bac_panels):
    admixture(box, cols, bac_groups)

# K = n labels
k_names = ["K = %d" % k for k in k_prob]
dro_kpos = [(134, 350), (134, 512), (134, 671), (141, 848), (141, 1019),
            (141, 1193), (141, 1356), (147, 1521), (147, 1686)]
bac_kpos = [(134, 2360), (134, 2523), (134, 2682), (141, 2858), (141, 3030),
            (141, 3205), (141, 3366), (147, 3532), (147, 3695)]
for name, (x, y) in zip(k_names, dro_kpos):
    put(x, y, name, 61, fontweight="bold")
for name, (x, y) in zip(k_names, bac_kpos):
    put(x, y, name, 61, fontweight="bold")

# population labels and titles
for s, x, y in [("ATR", 481, 232), ("SHK", 923, 229), ("KZL", 1260, 229), ("TRZ", 1512, 229),
                ("ALA", 796, 2222), ("KZL", 1297, 2219), ("TRZ", 1510, 2223)]:
    put(x, y, s, 52, fontweight="bold")
put(1600, 53, "C. dromedarius", 53, fontweight="bold", style="italic")
put(1643, 1965, "C. bactrianus", 53, fontweight="bold", style="italic")


def fmt_prob(t):
    return "%g" % t


def fmt_int(t):
    return "%d" % t


zero_row = ["0.000"] * 9
curve((1850, 245, 2864, 951), k_prob, dro_prob, (1, 11), (0, 1), [0, .2, .4, .6, .8, 1], fmt_prob,
      zero_row[:7] + ["1.000", "0.000"],
      [(-6, 30), (-3, 30), (7, 30), (7, 30), (8, 30), (4, 30), (15, 30), (-1, 28), (20, 30)], 24)
curve((1850, 1120, 2865, 1826), k_delta, dro_delta, (2, 10), (0, 25), [0, 5, 10, 15, 20, 25], fmt_int,
      ["%.3f" % v for v in dro_delta],
      [(-13, 33), (-4, 20), (-10, 34), (0, 28), (-7, 26), (-10, 27), (0, 26)], 24)
curve((1874, 2122, 2997, 2908), k_prob, bac_prob, (1, 11), (0, 1), [0, .2, .4, .6, .8, 1], fmt_prob,
      zero_row[:2] + ["1.000"] + zero_row[:6],
      [(-7, 28), (23, 28), (-5, 29), (-22, 28), (-12, 28), (-5, 28), (-4, 28), (-3, 28), (-1, 28)], 27)
curve((1889, 3038, 3002, 3817), k_delta, bac_delta, (2, 10), (0, 100), [0, 20, 40, 60, 80, 100], fmt_int,
      ["%.3f" % v for v in bac_delta],
      [(-18, 36), (14, 30), (10, 26), (3, 38), (-4, 33), (-3, 26), (-7, 30)], 27)

# axis titles
put(1742, 617, "Prob (K)", 29, fontweight="bold", rotation=90)
put(1750, 1481, "Delta K", 30, fontweight="bold", rotation=90)
put(1762, 2509, "Prob (K)", 35, fontweight="bold", rotation=90)
put(1773, 3399, "Delta K", 29, fontweight="bold", rotation=90)
put(2324, 1019, "K", 30, fontweight="bold")
put(2367, 1890, "K", 30, fontweight="bold")
put(2489, 3883, "K", 33, fontweight="bold")

fig.savefig("out.png", dpi=100, facecolor="white")
